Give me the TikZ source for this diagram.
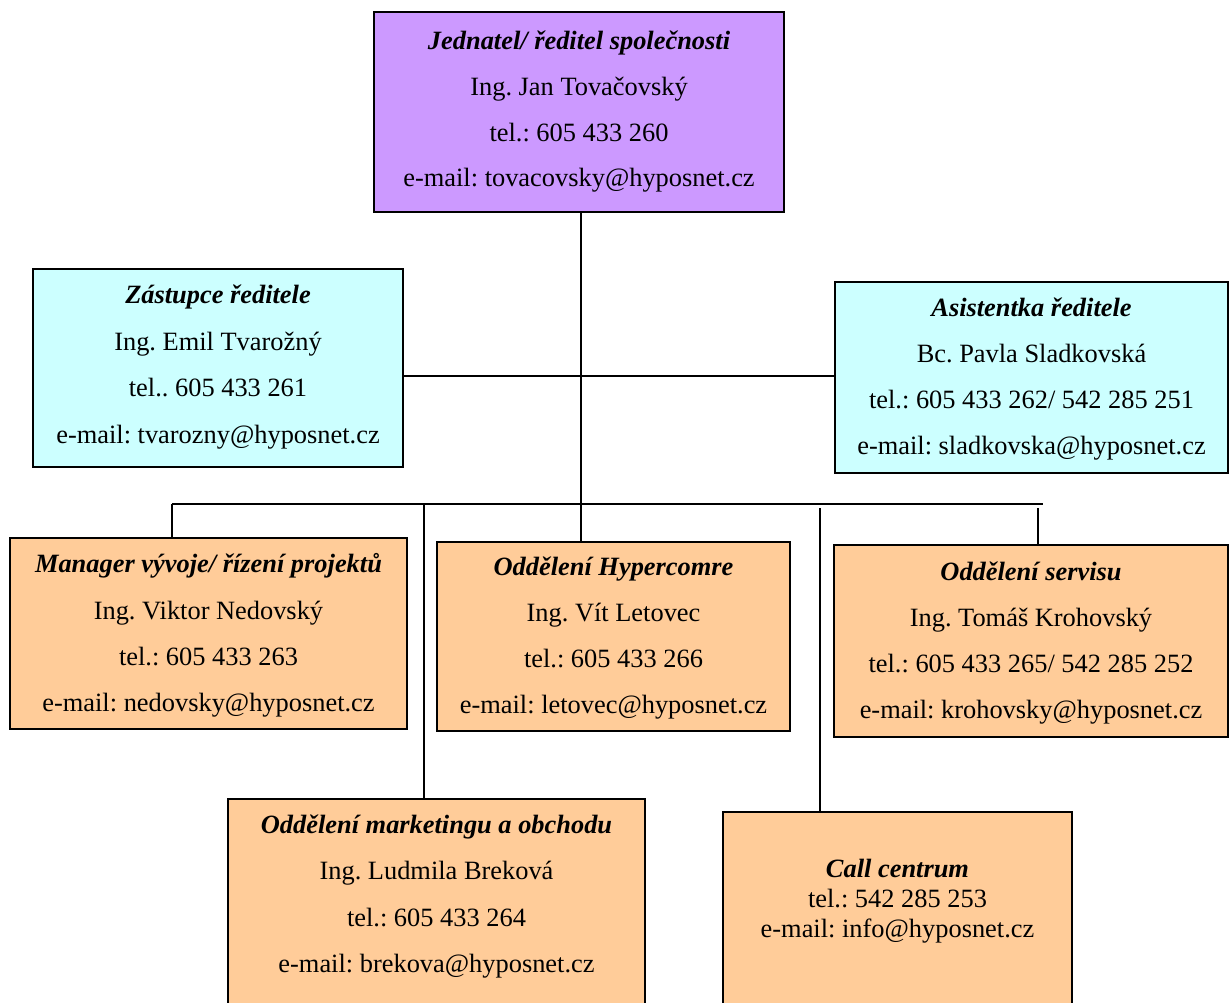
\documentclass[tikz,border=0pt]{standalone}
\usepackage{fontspec}
\setmainfont{Liberation Serif}
\frenchspacing
\definecolor{cpurple}{HTML}{CC99FF}
\definecolor{ccyan}{HTML}{CCFFFF}
\definecolor{corange}{HTML}{FFCC99}
\newcommand\orglines[5]{%
  \foreach \t [count=\i] in {#5}
    \node[txt] (#1-\i) at (#2,{#3+(\i-1)*#4}) {\t};}
\newcommand\ttl[1]{\textbf{\textit{#1}}}
\begin{document}
\begin{tikzpicture}[x=1pt,y=-1pt,
  orgbox/.style={draw=black, line width=2pt, rectangle, inner sep=0pt},
  txt/.style={anchor=base, inner sep=0pt, font=\fontsize{26.4}{30}\selectfont\frenchspacing},
  conn/.style={draw=black, line width=2pt}]
\useasboundingbox (0,0) rectangle (1229,1003);
\clip (0,0) rectangle (1229,1003);
\fill[white] (0,0) rectangle (1229,1003);
% boxes
\node[orgbox, fill=cpurple, minimum width=410pt, minimum height=200pt] (top) at (579,112.5) {};
\node[orgbox, fill=ccyan, minimum width=370pt, minimum height=198pt] (dep) at (218,368) {};
\node[orgbox, fill=ccyan, minimum width=393pt, minimum height=191pt] (asst) at (1031.5,377.5) {};
\node[orgbox, fill=corange, minimum width=397pt, minimum height=191pt] (mgr) at (208.5,633) {};
\node[orgbox, fill=corange, minimum width=353pt, minimum height=189pt] (hyp) at (613.5,636) {};
\node[orgbox, fill=corange, minimum width=394pt, minimum height=192pt] (srv) at (1031,641) {};
\node[orgbox, fill=corange, minimum width=417pt, minimum height=220pt] (mkt) at (436.5,909) {};
\node[orgbox, fill=corange, minimum width=349pt, minimum height=210pt] (call) at (897.5,917) {};
% texts
\orglines{top}{579}{50}{45.6}{{\ttl{Jednatel/ ředitel společnosti}},{Ing. Jan Tovačovský},{tel.: 605 433 260},{e-mail: tovacovsky@hyposnet.cz}}
\orglines{dep}{218}{303.3}{46.7}{{\ttl{Zástupce ředitele}},{Ing. Emil Tvarožný},{tel.. 605 433 261},{e-mail: tvarozny@hyposnet.cz}}
\orglines{asst}{1031.5}{316.7}{45.8}{{\ttl{Asistentka ředitele}},{Bc. Pavla Sladkovská},{tel.: 605 433 262/ 542 285 251},{e-mail: sladkovska@hyposnet.cz}}
\orglines{mgr}{208.5}{572.7}{46.3}{{\ttl{Manager vývoje/ řízení projektů}},{Ing. Viktor Nedovský},{tel.: 605 433 263},{e-mail: nedovsky@hyposnet.cz}}
\orglines{hyp}{613.5}{575}{46.3}{{\ttl{Oddělení Hypercomre}},{Ing. Vít Letovec},{tel.: 605 433 266},{e-mail: letovec@hyposnet.cz}}
\orglines{srv}{1031}{580}{46.1}{{\ttl{Oddělení servisu}},{Ing. Tomáš Krohovský},{tel.: 605 433 265/ 542 285 252},{e-mail: krohovsky@hyposnet.cz}}
\orglines{mkt}{436.5}{833.3}{46.5}{{\ttl{Oddělení marketingu a obchodu}},{Ing. Ludmila Breková},{tel.: 605 433 264},{e-mail: brekova@hyposnet.cz}}
\orglines{call}{897.5}{877.3}{30.2}{{\ttl{Call centrum}},{tel.: 542 285 253},{e-mail: info@hyposnet.cz}}
% connectors
\coordinate (busL) at (172,504);
\coordinate (busR) at (1043,504);
\coordinate (mk1) at (424,505);
\coordinate (cc1) at (820,508);
\coordinate (sv1) at (1038,508);
\draw[conn] ([xshift=2pt]top.south) -- ([xshift=2pt]top.south |- hyp.north);
\draw[conn] (dep.east |- 0,376) -- (asst.west |- 0,376);
\draw[conn] (busL) -- (busR);
\draw[conn] (busL) -- (busL |- mgr.north);
\draw[conn] (mk1) -- (mk1 |- mkt.north);
\draw[conn] (cc1) -- (cc1 |- call.north);
\draw[conn] (sv1) -- (sv1 |- srv.north);
\end{tikzpicture}
\end{document}
